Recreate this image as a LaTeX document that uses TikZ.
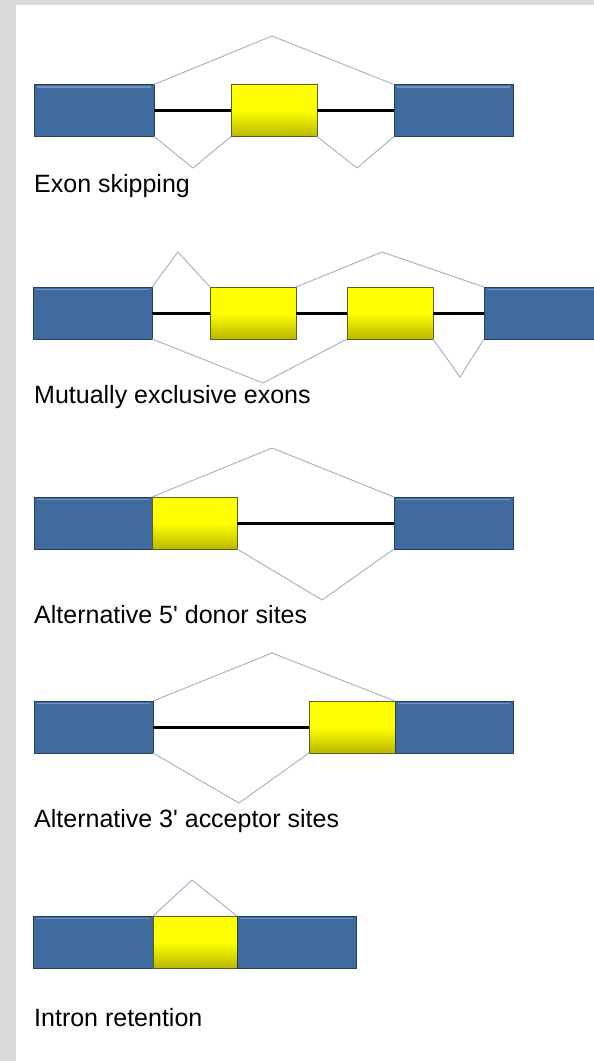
\documentclass[tikz,border=0pt]{standalone}
\usepackage{fontspec}
\setmainfont{Liberation Sans}
\definecolor{exblue}{HTML}{3F6A9E}
\definecolor{exbluelight}{HTML}{6F93C0}
\definecolor{exblueedge}{HTML}{22405F}
\definecolor{exyel}{HTML}{FFFF00}
\definecolor{exyeldark}{HTML}{B8B800}
\definecolor{exyeledge}{HTML}{5E5E22}
\definecolor{splice}{HTML}{9FB0C6}
\definecolor{pagegray}{HTML}{D9D9D9}
\tikzset{
  blueexon/.style={draw=exblueedge, line width=1pt, fill=exblue, minimum height=52pt, inner sep=0pt, outer sep=0pt,
    path picture={\draw[exbluelight, line width=1.5pt] ([xshift=3pt,yshift=-2.5pt]path picture bounding box.north west) -- ([xshift=-3pt,yshift=-2.5pt]path picture bounding box.north east);}},
  yelexon/.style={draw=exyeledge, line width=1pt, top color=exyel, bottom color=exyeldark, middle color=exyel, minimum height=52pt, inner sep=0pt, outer sep=0pt},
  intron/.style={line width=3pt, black},
  splicel/.style={draw=splice, line width=0.9pt, line join=miter},
  caption/.style={anchor=base west, inner sep=0pt, font=\fontsize{25pt}{30pt}\selectfont}
}
\begin{document}
\begin{tikzpicture}[x=1pt,y=-1pt]
\clip (0,0) rectangle (594,1061);
\useasboundingbox (0,0) rectangle (594,1061);
\fill[white] (0,0) rectangle (594,1061);
\fill[pagegray] (0,0) rectangle (594,4.5);
\fill[pagegray] (0,0) rectangle (15.5,1061);

% Row 1: exon skipping
\node[blueexon, minimum width=120pt] (r1a) at (94,110.5) {};
\node[yelexon, minimum width=86pt] (r1b) at (274,110.5) {};
\node[blueexon, minimum width=119pt] (r1c) at (453.5,110.5) {};
\draw[intron] (r1a.east) -- (r1b.west);
\draw[intron] (r1b.east) -- (r1c.west);
\coordinate (r1p) at (272,36);
\coordinate (r1v1) at (193,168);
\coordinate (r1v2) at (357,168);
\draw[splicel] (r1a.north east) -- (r1p) -- (r1c.north west);
\draw[splicel] (r1a.south east) -- (r1v1) -- (r1b.south west);
\draw[splicel] (r1b.south east) -- (r1v2) -- (r1c.south west);
\node[caption] (t1) at (34,192) {Exon skipping};

% Row 2: mutually exclusive exons
\node[blueexon, minimum width=119pt] (r2a) at (92.5,313) {};
\node[yelexon, minimum width=86pt] (r2b) at (253,313) {};
\node[yelexon, minimum width=86pt] (r2c) at (390,313) {};
\node[blueexon, minimum width=119pt] (r2d) at (543.5,313) {};
\draw[intron] (r2a.east) -- (r2b.west);
\draw[intron] (r2b.east) -- (r2c.west);
\draw[intron] (r2c.east) -- (r2d.west);
\coordinate (r2p1) at (178,252);
\coordinate (r2p2) at (382,252);
\coordinate (r2v1) at (263,383);
\coordinate (r2v2) at (460,377);
\draw[splicel] (r2a.north east) -- (r2p1) -- (r2b.north west);
\draw[splicel] (r2b.north east) -- (r2p2) -- (r2d.north west);
\draw[splicel] (r2a.south east) -- (r2v1) -- (r2c.south west);
\draw[splicel] (r2c.south east) -- (r2v2) -- (r2d.south west);
\node[caption] (t2) at (34,403) {Mutually exclusive exons};

% Row 3: alternative 5' donor sites
\node[blueexon, minimum width=118pt] (r3a) at (93,523) {};
\node[yelexon, minimum width=85pt] (r3b) at (194.5,523) {};
\node[blueexon, minimum width=119pt] (r3c) at (453.5,523) {};
\draw[intron] (r3b.east) -- (r3c.west);
\coordinate (r3p) at (272,448);
\coordinate (r3v) at (322,600);
\draw[splicel] (r3a.north east) -- (r3p) -- (r3c.north west);
\draw[splicel] (r3b.south east) -- (r3v) -- (r3c.south west);
\node[caption] (t3) at (34,623) {Alternative 5\textquotesingle{} donor sites};

% Row 4: alternative 3' acceptor sites
\node[blueexon, minimum width=119pt] (r4a) at (93.5,727) {};
\node[yelexon, minimum width=86pt] (r4b) at (352,727) {};
\node[blueexon, minimum width=118pt] (r4c) at (454,727) {};
\draw[intron] (r4a.east) -- (r4b.west);
\coordinate (r4p) at (272,653);
\coordinate (r4v) at (239,803);
\draw[splicel] (r4a.north east) -- (r4p) -- (r4c.north west);
\draw[splicel] (r4a.south east) -- (r4v) -- (r4b.south west);
\node[caption] (t4) at (34,827) {Alternative 3\textquotesingle{} acceptor sites};

% Row 5: intron retention
\node[blueexon, minimum width=120pt] (r5a) at (93,942) {};
\node[yelexon, minimum width=84pt] (r5b) at (195,942) {};
\node[blueexon, minimum width=119pt] (r5c) at (296.5,942) {};
\coordinate (r5p) at (192,880);
\draw[splicel] (r5b.north west) -- (r5p) -- (r5b.north east);
\node[caption] (t5) at (34,1026) {Intron retention};
\end{tikzpicture}
\end{document}
